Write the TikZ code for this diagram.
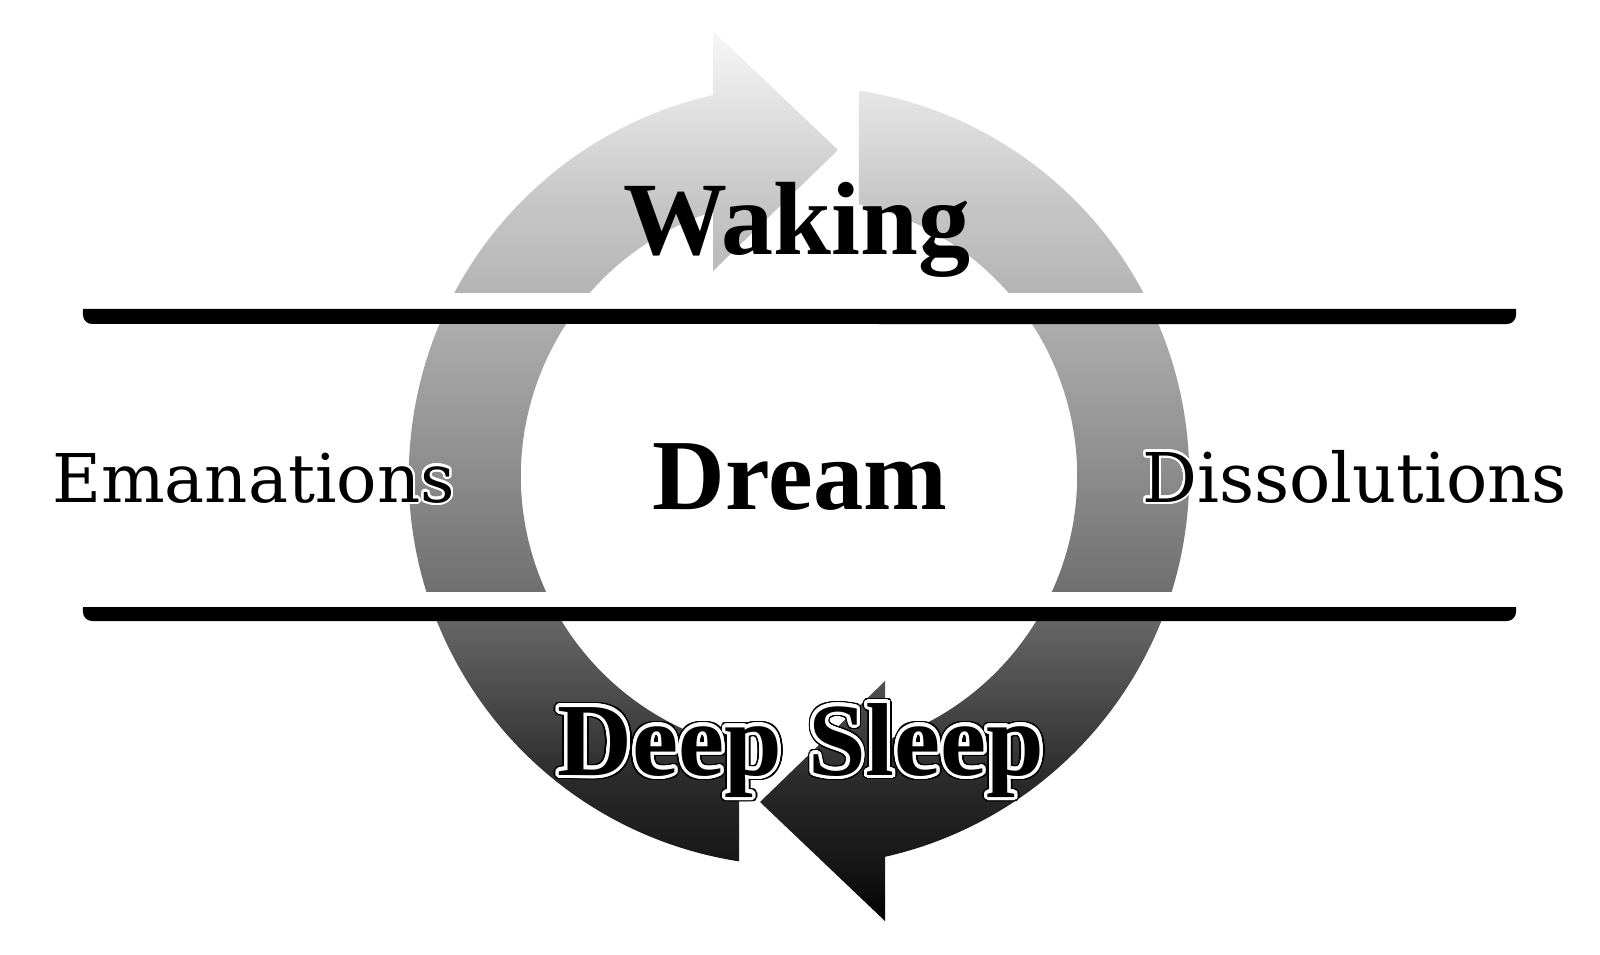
\documentclass[tikz,border=0pt]{standalone}
\usepackage{fontspec}
\setmainfont{DejaVu Serif}
\newfontfamily\boldlabel{Liberation Serif}
\usepackage{contour}
\contournumber{32}
\pgfdeclareverticalshading{ringshade}{100bp}{%
  color(0bp)=(black); color(25bp)=(black);
  color(27.8bp)=(white!8!black); color(32.9bp)=(white!16.5!black);
  color(37.4bp)=(white!29!black); color(43.6bp)=(white!44!black);
  color(50.3bp)=(white!55!black); color(58.2bp)=(white!67!black);
  color(60.45bp)=(white!71!black); color(65.5bp)=(white!78!black);
  color(70bp)=(white!87!black); color(75bp)=(white!97!black);
  color(100bp)=(white!97!black)}
\begin{document}
\begin{tikzpicture}[x=0.01cm,y=0.01cm,
  lbl/.style={inner sep=0pt, anchor=base},
  barline/.style={fill=black},
  gapband/.style={fill=white}]
\useasboundingbox (0,0) rectangle (1600,954);
\fill[white] (0,0) rectangle (1600,954);
% the two circular arrows, shaded as one path
\shade[shading=ringshade]
  (739,92.64) arc[start angle=261.15, end angle=102.74, radius=3.9cm]
  -- (713,923) -- (838,804) -- (713,683) -- (713,742.4)
  arc[start angle=108.02, end angle=257.54, radius=2.78cm] -- cycle
  (859,863.36) arc[start angle=81.15, end angle=-77.26, radius=3.9cm]
  -- (885,33) -- (760,152) -- (885,273) -- (885,213.6)
  arc[start angle=-71.98, end angle=77.54, radius=2.78cm] -- cycle;
% white gaps above the bars
\fill[gapband] (83,645) rectangle (1516,661);
\fill[gapband] (83,347) rectangle (1516,362);
% bars
\fill[barline] (83,645) -- (1516,645) -- (1516,639)
  arc[start angle=0, end angle=-90, radius=0.09cm] -- (92,630)
  arc[start angle=270, end angle=180, radius=0.09cm] -- cycle;
\fill[barline] (83,347) -- (1516,347) -- (1516,342)
  arc[start angle=0, end angle=-90, radius=0.09cm] -- (92,333)
  arc[start angle=270, end angle=180, radius=0.09cm] -- cycle;
% labels
\node[lbl, font=\boldlabel\bfseries\fontsize{29.6}{32}\selectfont] (waking) at (797,699) {Waking};
\node[lbl, font=\boldlabel\bfseries\fontsize{28.6}{32}\selectfont] (dream) at (800,444) {Dream};
\node[lbl, font=\fontsize{19.1}{22}\selectfont] (eman) at (253.5,452)
  {\contourlength{0.6pt}\contour{white}{Emanations}};
\node[lbl, font=\fontsize{19.5}{22}\selectfont] (diss) at (1354.5,452)
  {\contourlength{0.6pt}\contour{white}{Dissolutions}};
\node[lbl, font=\boldlabel\bfseries\fontsize{29.5}{32}\selectfont] (deep) at (801,179)
  {\rlap{\contourlength{1.4pt}\contour{black}{Deep Sleep}}\contourlength{0.9pt}\contour{white}{Deep Sleep}};
\end{tikzpicture}
\end{document}
